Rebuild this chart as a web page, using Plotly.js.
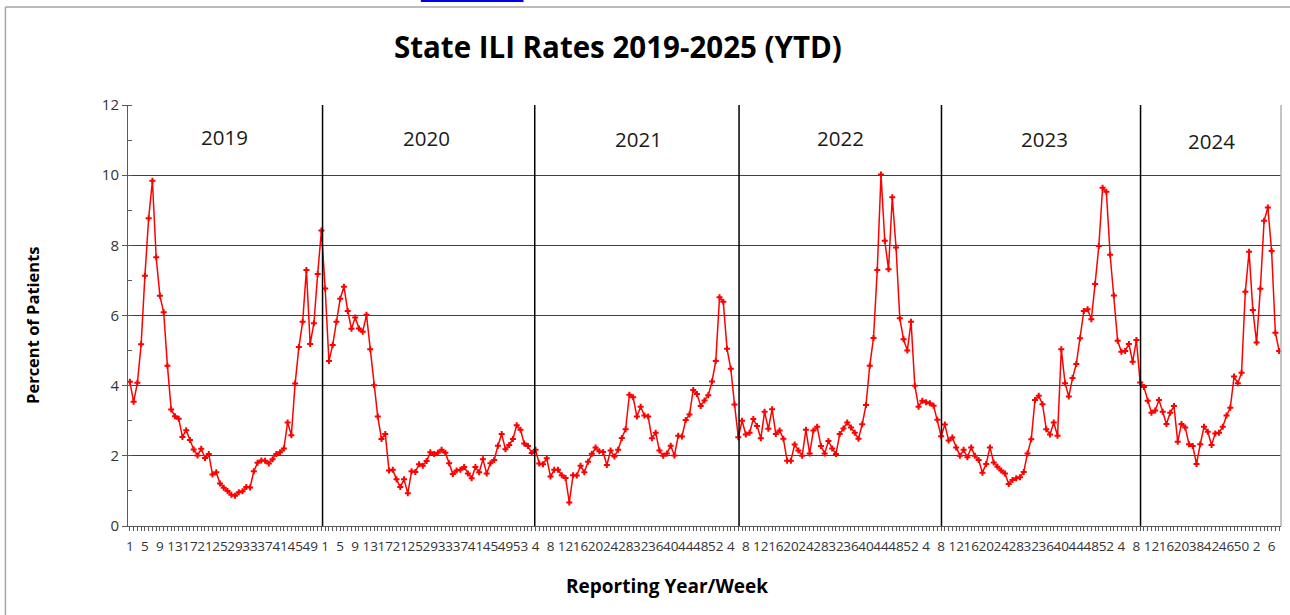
<!DOCTYPE html>
<html>
<head>
<meta charset="utf-8">
<script src="https://cdn.plot.ly/plotly-3.0.1.min.js"></script>
<style>
  html, body { margin: 0; padding: 0; background: #ffffff; }
  #chart { width: 1290px; height: 615px; }
</style>
</head>
<body>
<div id="chart"></div>
<script>
// ---------- DATA ----------
function span(a, b) { const r = []; for (let i = a; i <= b; i++) r.push(i); return r; }

const years = [2019, 2020, 2021, 2022, 2023, 2024, 2025];
const weeks2019 = span(1, 52);
const weeks2020 = span(1, 53);
const weeks2021 = span(1, 52);
const weeks2022 = span(1, 52);
const weeks2023 = span(1, 52);
const weeks2024 = span(1, 20).concat(span(35, 52));
const weeks2025 = span(1, 8);

const ili2019 = [4.11, 3.54, 4.08, 5.18, 7.13, 8.77, 9.84, 7.66, 6.56, 6.09, 4.57, 3.32, 3.13, 3.06, 2.54, 2.73,
  2.45, 2.18, 2.01, 2.20, 1.94, 2.05, 1.47, 1.53, 1.21, 1.09, 1.00, 0.89, 0.86, 0.96, 0.99, 1.11,
  1.10, 1.56, 1.80, 1.87, 1.86, 1.78, 1.90, 2.05, 2.10, 2.21, 2.95, 2.59, 4.06, 5.10, 5.82, 7.30,
  5.19, 5.78, 7.18, 8.42];
const ili2020 = [6.77, 4.70, 5.16, 5.82, 6.48, 6.82, 6.13, 5.62, 5.94, 5.63, 5.54, 6.02, 5.04, 4.01, 3.12, 2.48,
  2.62, 1.58, 1.60, 1.33, 1.11, 1.33, 0.93, 1.56, 1.54, 1.76, 1.72, 1.85, 2.10, 2.05, 2.09, 2.17,
  2.09, 1.79, 1.48, 1.58, 1.60, 1.68, 1.50, 1.36, 1.68, 1.53, 1.90, 1.50, 1.79, 1.88, 2.29, 2.62,
  2.19, 2.31, 2.48, 2.87, 2.74];
const ili2021 = [2.35, 2.28, 2.08, 2.17, 1.78, 1.76, 1.93, 1.41, 1.60, 1.60, 1.45, 1.37, 0.67, 1.45, 1.44, 1.72,
  1.53, 1.83, 2.06, 2.24, 2.13, 2.11, 1.74, 2.15, 1.98, 2.17, 2.51, 2.76, 3.74, 3.67, 3.12, 3.40,
  3.15, 3.12, 2.50, 2.66, 2.15, 2.00, 2.07, 2.29, 2.01, 2.57, 2.55, 3.02, 3.18, 3.88, 3.76, 3.42,
  3.58, 3.73, 4.12, 4.70];
const ili2022 = [6.52, 6.39, 5.05, 4.48, 3.46, 2.53, 3.00, 2.61, 2.66, 3.05, 2.85, 2.50, 3.26, 2.77, 3.33, 2.62,
  2.72, 2.49, 1.86, 1.86, 2.32, 2.15, 2.00, 2.74, 2.07, 2.72, 2.83, 2.28, 2.07, 2.42, 2.21, 2.05,
  2.62, 2.78, 2.95, 2.81, 2.66, 2.49, 2.90, 3.45, 4.57, 5.36, 7.30, 10.02, 8.13, 7.32, 9.37, 7.94,
  5.92, 5.32, 5.00, 5.82];
const ili2023 = [4.00, 3.40, 3.57, 3.53, 3.50, 3.43, 3.03, 2.56, 2.89, 2.44, 2.52, 2.24, 2.00, 2.17, 1.96, 2.24,
  2.00, 1.88, 1.52, 1.77, 2.24, 1.81, 1.69, 1.58, 1.50, 1.20, 1.31, 1.36, 1.39, 1.54, 2.07, 2.47,
  3.59, 3.71, 3.47, 2.76, 2.61, 2.95, 2.57, 5.04, 4.07, 3.69, 4.22, 4.62, 5.35, 6.13, 6.18, 5.89,
  6.90, 7.98, 9.64, 9.53];
const ili2024 = [7.73, 6.57, 5.28, 4.97, 4.99, 5.19, 4.68, 5.30, 4.09, 3.96, 3.57, 3.23, 3.29, 3.59, 3.26, 2.91,
  3.23, 3.42, 2.40, 2.91, 2.81, 2.33, 2.28, 1.77, 2.33, 2.83, 2.69, 2.31, 2.64, 2.66, 2.83, 3.15,
  3.37, 4.26, 4.07, 4.37, 6.68, 7.82];
const ili2025 = [6.16, 5.23, 6.76, 8.70, 9.08, 7.84, 5.51, 4.99];

const yearLabels = ['2019', '2020', '2021', '2022', '2023', '2024'];

// ---------- BUILD ----------
const weekSets = [weeks2019, weeks2020, weeks2021, weeks2022, weeks2023, weeks2024, weeks2025];
const valueSets = [ili2019, ili2020, ili2021, ili2022, ili2023, ili2024, ili2025];
const cats = [], vals = [], wkLabel = [];
years.forEach((yr, i) => {
  weekSets[i].forEach((w, j) => {
    cats.push(yr + '-W' + w);
    wkLabel.push(String(w));
    vals.push(valueSets[i][j]);
  });
});
const tickText = wkLabel.map((t, i) => (i % 4 === 0 ? t : ''));

// decoration positions (category-index units)
const yearLinePos = [51.3, 107.8, 162.2, 216.1, 269.1];
const yearLabelPos = [[25.3, 11.09], [79.1, 11.06], [135.5, 11.03], [189.3, 11.06], [243.4, 11.03], [287.9, 10.97]];

const FONT = '"Open Sans", "Noto Sans", "DejaVu Sans", sans-serif';

const trace = {
  type: 'scatter',
  mode: 'lines+markers',
  x: cats,
  y: vals,
  line: { color: '#FF0000', width: 1.5 },
  marker: { color: '#FF0000', size: 5, symbol: 'cross' },
  hoverinfo: 'x+y',
  showlegend: false
};

const shapes = yearLinePos.map(p => ({
  type: 'line', xref: 'x', yref: 'y', x0: p, x1: p, y0: 0, y1: 12,
  line: { color: '#000000', width: 1.5 }
}));
// right border of plot area
shapes.push({ type: 'line', xref: 'paper', yref: 'paper', x0: 1, x1: 1, y0: 0, y1: 1,
  line: { color: '#b0b0b0', width: 1.5 } });
// outer chart frame (left + top)
shapes.push({ type: 'line', xref: 'paper', yref: 'paper', x0: -0.1063, x1: -0.1063, y0: 1.233, y1: -0.25,
  line: { color: '#a6a6a6', width: 1.5 } });
shapes.push({ type: 'line', xref: 'paper', yref: 'paper', x0: -0.1063, x1: 1.02, y0: 1.233, y1: 1.233,
  line: { color: '#a6a6a6', width: 1.5 } });
// clipped link underline at page top
shapes.push({ type: 'rect', xref: 'paper', yref: 'paper', x0: 0.254, x1: 0.343, y0: 1.2446, y1: 1.251,
  fillcolor: '#0000ee', line: { width: 0 } });

const annotations = yearLabels.map((t, i) => ({
  text: t, xref: 'x', yref: 'y', x: yearLabelPos[i][0], y: yearLabelPos[i][1],
  showarrow: false, xanchor: 'center', yanchor: 'middle',
  font: { family: FONT, size: 20.5, color: '#1a1a1a' }
}));
annotations.push({
  text: 'Reporting Year/Week', xref: 'paper', yref: 'paper', x: 0.4675, y: -0.1425,
  showarrow: false, xanchor: 'center', yanchor: 'middle',
  font: { family: FONT, size: 19, color: '#000000', weight: 'bold' }
});
annotations.push({
  text: 'Percent of Patients', xref: 'paper', yref: 'paper', x: -0.0833, y: 0.4774,
  textangle: -90, showarrow: false, xanchor: 'center', yanchor: 'middle',
  font: { family: FONT, size: 16.5, color: '#000000', weight: 'bold' }
});

const layout = {
  width: 1290, height: 615,
  margin: { l: 128, r: 9, t: 105, b: 89, pad: 0 },
  paper_bgcolor: '#ffffff', plot_bgcolor: '#ffffff',
  font: { family: FONT, color: '#333333' },
  title: {
    text: 'State ILI Rates 2019-2025 (YTD)',
    xref: 'container', yref: 'container', x: 0.479, y: 0.922,
    xanchor: 'center', yanchor: 'middle',
    font: { family: FONT, size: 29.5, color: '#000000', weight: 'bold' }
  },
  xaxis: {
    type: 'category',
    categoryorder: 'array', categoryarray: cats,
    range: [-0.5, cats.length - 0.5],
    tickmode: 'array', tickvals: cats, ticktext: tickText,
    tickangle: 0,
    ticks: 'outside', ticklen: 4, tickwidth: 1, tickcolor: '#595959',
    ticklabelstandoff: 4,
    showline: true, linecolor: '#595959', linewidth: 1,
    showgrid: false, zeroline: false,
    tickfont: { family: FONT, size: 13.5, color: '#333333' },
    fixedrange: true
  },
  yaxis: {
    range: [0, 12], dtick: 2, tick0: 0,
    ticks: 'outside', ticklen: 5, tickwidth: 1, tickcolor: '#595959',
    minor: { dtick: 1, ticks: 'inside', ticklen: 4, tickcolor: '#595959', showgrid: false },
    showline: true, linecolor: '#595959', linewidth: 1,
    showgrid: true, gridcolor: '#404040', gridwidth: 1,
    zeroline: false,
    tickfont: { family: FONT, size: 15, color: '#333333' },
    fixedrange: true
  },
  shapes: shapes,
  annotations: annotations
};

Plotly.newPlot('chart', [trace], layout, { displayModeBar: false, staticPlot: true });
</script>
</body>
</html>
